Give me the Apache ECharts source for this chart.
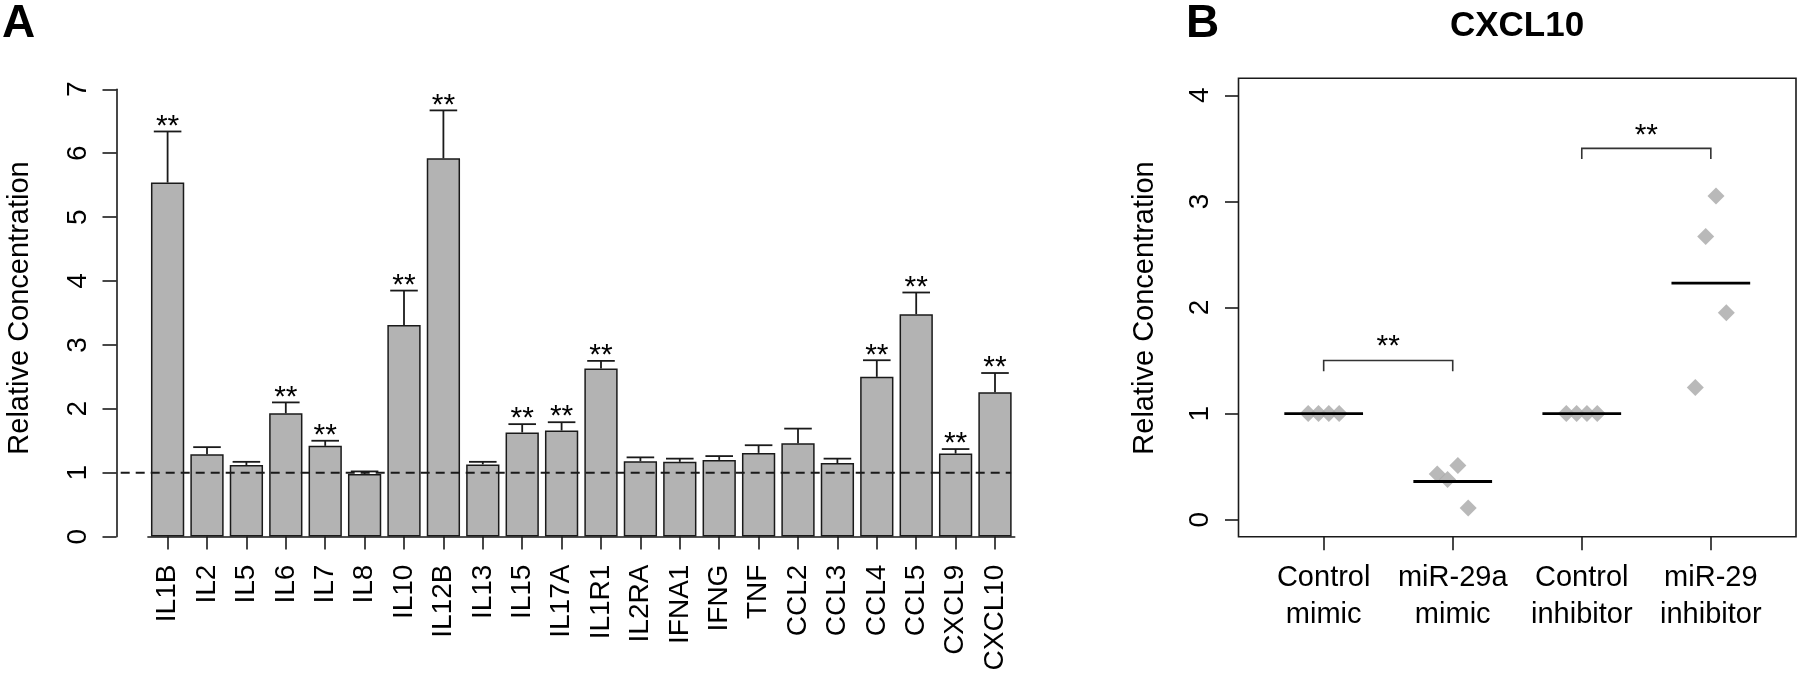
<!DOCTYPE html>
<html><head><meta charset="utf-8">
<script src="https://cdn.jsdelivr.net/npm/echarts@6/dist/echarts.min.js"></script>
<style>html,body{margin:0;padding:0;background:#fff}#c{width:1800px;height:678px}</style>
</head><body><div id="c"></div>
<script>
// ---------- Panel A data ----------
const cytokines = ['IL1B','IL2','IL5','IL6','IL7','IL8','IL10','IL12B','IL13','IL15','IL17A','IL1R1','IL2RA','IFNA1','IFNG','TNF','CCL2','CCL3','CCL4','CCL5','CXCL9','CXCL10'];
const relConc   = [5.54,1.29,1.12,1.93,1.42,0.98,3.31,5.92,1.13,1.63,1.66,2.63,1.18,1.17,1.20,1.31,1.46,1.15,2.50,3.48,1.30,2.26];
const semA      = [0.80,0.11,0.05,0.17,0.08,0.04,0.54,0.75,0.04,0.13,0.13,0.12,0.06,0.05,0.06,0.12,0.23,0.07,0.26,0.34,0.07,0.30];
const significant = [1,0,0,1,1,0,1,1,0,1,1,1,0,0,0,0,0,0,1,1,1,1];
const yTicksA = [0,1,2,3,4,5,6,7];
const refLevel = 1;
const refLineX = [-0.72, 26.4];

// ---------- Panel B data ----------
const groupLabels = ['Control\nmimic','miR-29a\nmimic','Control\ninhibitor','miR-29\ninhibitor'];
const groupPos = [1,2,3,4];
const controlMimic    = [1.00,1.00,1.00,1.00];
const mir29aMimic     = [0.43,0.38,0.51,0.11];
const controlInhibitor= [1.00,1.00,1.00,1.00];
const mir29Inhibitor  = [1.245,2.67,3.05,1.95];
const groupMeans = [1.00,0.36,1.00,2.23];
const jitter = [-0.12,-0.04,0.04,0.12];
const yTicksB = [0,1,2,3,4];
const brackets = [[1,2,1.5],[3,4,3.5]];  // from, to, height
const bracketStars = [1.69,3.68];

const FONT = "'Liberation Sans', Arial, Helvetica, sans-serif";
const INK = '#1a1a1a';

const groups = [controlMimic, mir29aMimic, controlInhibitor, mir29Inhibitor];
const pointsB = [];
groups.forEach((g, gi) => g.forEach((v, j) => pointsB.push([groupPos[gi] + jitter[j], v])));

const chart = echarts.init(document.getElementById('c'), null, {renderer: 'canvas'});
const tickStyle = {color: INK, width: 1.6};

chart.setOption({
  animation: false,
  backgroundColor: '#fff',
  textStyle: {fontFamily: FONT},
  grid: [
    {left: 147.9, top: 89.3, width: 866.8, height: 447.3},
    {left: 116.5, top: 89.3, width: 929, height: 447.3},
    {left: 1238.5, top: 78.3, width: 557.5, height: 458.4, show: true, borderColor: INK, borderWidth: 1.6, backgroundColor: 'transparent'}
  ],
  xAxis: [
    {gridIndex: 0, type: 'category', data: cytokines,
     axisLine: {show: true, onZero: false, lineStyle: tickStyle},
     axisTick: {show: true, alignWithLabel: true, length: 13, lineStyle: tickStyle},
     axisLabel: {rotate: 90, interval: 0, fontSize: 28, margin: 28, color: '#000', fontFamily: FONT},
     splitLine: {show: false}},
    {gridIndex: 1, type: 'value', min: -0.848, max: 27.448, show: false},
    {gridIndex: 2, type: 'value', min: 0.34, max: 4.66, position: 'bottom',
     axisLine: {show: false, onZero: false},
     axisTick: {show: true, customValues: groupPos, length: 13.5, lineStyle: tickStyle},
     axisLabel: {customValues: groupPos, formatter: v => groupLabels[Math.round(v) - 1], fontSize: 29, lineHeight: 37, margin: 23, color: '#000', fontFamily: FONT},
     splitLine: {show: false}}
  ],
  yAxis: [
    {gridIndex: 0, type: 'value', min: 0, max: 7, interval: 1, offset: 31.4,
     axisLine: {show: true, onZero: false, lineStyle: tickStyle},
     axisTick: {show: true, length: 14, lineStyle: tickStyle},
     axisLabel: {rotate: 90, fontSize: 28, margin: 24, color: '#000', fontFamily: FONT},
     splitLine: {show: false}},
    {gridIndex: 1, type: 'value', min: 0, max: 7, show: false},
    {gridIndex: 2, type: 'value', min: -0.16, max: 4.16, position: 'left',
     axisLine: {show: false, onZero: false},
     axisTick: {show: true, customValues: yTicksB, length: 13.5, lineStyle: tickStyle},
     axisLabel: {customValues: yTicksB, rotate: 90, fontSize: 28, margin: 24, color: '#000', fontFamily: FONT},
     splitLine: {show: false}}
  ],
  graphic: [
    {type: 'text', left: 2, top: 1, style: {text: 'A', font: 'bold 46px ' + FONT, fill: '#000'}},
    {type: 'text', left: 1186, top: 1, style: {text: 'B', font: 'bold 46px ' + FONT, fill: '#000'}},
    {type: 'text', x: 1517, y: 26, style: {text: 'CXCL10', font: 'bold 35px ' + FONT, fill: '#000', align: 'center', verticalAlign: 'middle'}},
    {type: 'text', x: 20, y: 308, rotation: Math.PI / 2, style: {text: 'Relative Concentration', font: '29px ' + FONT, fill: '#000', align: 'center', verticalAlign: 'middle'}},
    {type: 'text', x: 1145, y: 308, rotation: Math.PI / 2, style: {text: 'Relative Concentration', font: '29px ' + FONT, fill: '#000', align: 'center', verticalAlign: 'middle'}}
  ],
  series: [
    {type: 'bar', xAxisIndex: 0, yAxisIndex: 0, data: relConc, barWidth: '84.5%',
     itemStyle: {color: '#b3b3b3', borderColor: INK, borderWidth: 1.5}, z: 2},
    {type: 'line', xAxisIndex: 1, yAxisIndex: 1, data: refLineX.map(x => [x, refLevel]), symbol: 'none',
     lineStyle: {color: INK, width: 2, type: [9, 6]}, z: 5, silent: true},
    {type: 'custom', xAxisIndex: 0, yAxisIndex: 0, z: 4,
     data: cytokines.map((c, i) => [i, relConc[i], relConc[i] + semA[i]]),
     encode: {x: 0, y: [1, 2]},
     renderItem: (params, api) => {
       const p1 = api.coord([api.value(0), api.value(1)]);
       const p2 = api.coord([api.value(0), api.value(2)]);
       const hw = api.size([1, 0])[0] * 0.35;
       return {type: 'group', children: [
         {type: 'line', shape: {x1: p1[0], y1: p1[1], x2: p2[0], y2: p2[1]}, style: {stroke: INK, lineWidth: 1.8}},
         {type: 'line', shape: {x1: p2[0] - hw, y1: p2[1], x2: p2[0] + hw, y2: p2[1]}, style: {stroke: INK, lineWidth: 1.8}}
       ]};
     }},
    {type: 'custom', xAxisIndex: 0, yAxisIndex: 0, z: 4,
     data: cytokines.map((c, i) => [i, relConc[i] + semA[i]]).filter((d, i) => significant[i]),
     encode: {x: 0, y: 1},
     renderItem: (params, api) => {
       const p = api.coord([api.value(0), api.value(1)]);
       return {type: 'text', x: p[0], y: p[1] - 5, style: {text: '**', font: '30px ' + FONT, fill: '#000', align: 'center', verticalAlign: 'middle'}};
     }},
    {type: 'scatter', xAxisIndex: 2, yAxisIndex: 2, data: pointsB, symbol: 'diamond', symbolSize: 17,
     itemStyle: {color: '#a8a8a8'}, z: 2},
    {type: 'custom', xAxisIndex: 2, yAxisIndex: 2, z: 4,
     data: groupPos.map((x, i) => [x, groupMeans[i]]),
     encode: {x: 0, y: 1},
     renderItem: (params, api) => {
       const p = api.coord([api.value(0), api.value(1)]);
       const hw = api.size([0.305, 0])[0];
       return {type: 'line', shape: {x1: p[0] - hw, y1: p[1], x2: p[0] + hw, y2: p[1]}, style: {stroke: '#000', lineWidth: 2.8}};
     }},
    {type: 'custom', xAxisIndex: 2, yAxisIndex: 2, z: 4,
     data: brackets.map((b, i) => [b[0], b[1], b[2], bracketStars[i]]),
     encode: {x: [0, 1], y: [2, 3]},
     renderItem: (params, api) => {
       const a = api.coord([api.value(0), api.value(2)]);
       const b = api.coord([api.value(1), api.value(2)]);
       const leg = api.size([0, 0.1])[1];
       const s = api.coord([(api.value(0) + api.value(1)) / 2, api.value(3)]);
       return {type: 'group', children: [
         {type: 'polyline', shape: {points: [[a[0], a[1] + leg], a, b, [b[0], b[1] + leg]]}, style: {stroke: '#333', lineWidth: 1.6, fill: null}},
         {type: 'text', x: s[0], y: s[1] + 6.5, style: {text: '**', font: '30px ' + FONT, fill: '#000', align: 'center', verticalAlign: 'middle'}}
       ]};
     }}
  ]
});
</script></body></html>
